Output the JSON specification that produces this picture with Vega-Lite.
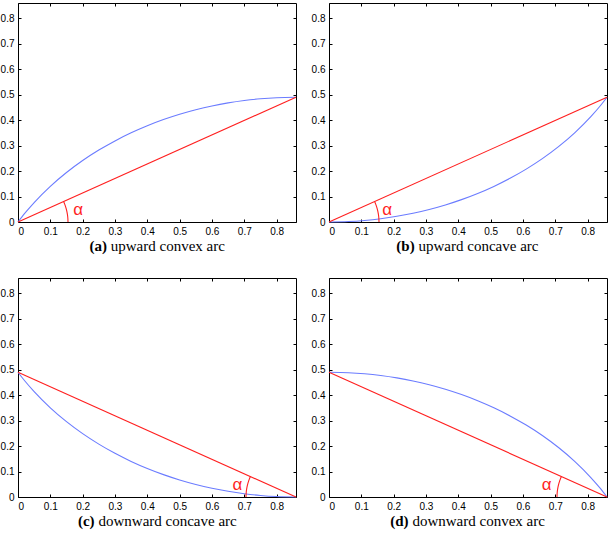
{
  "$schema": "https://vega.github.io/schema/vega-lite/v6.json",
  "background": "white",
  "padding": {"left": 0, "top": 2, "right": 0, "bottom": 0},
  "spacing": 22,
  "datasets": {
    "a": [
      {"s": "curve", "x": 0, "y": 0}, {"s": "curve", "x": 0.02, "y": 0.0326}, {"s": "curve", "x": 0.05, "y": 0.0764},
      {"s": "curve", "x": 0.1, "y": 0.1399}, {"s": "curve", "x": 0.15, "y": 0.1942}, {"s": "curve", "x": 0.2, "y": 0.2413},
      {"s": "curve", "x": 0.25, "y": 0.2824}, {"s": "curve", "x": 0.3, "y": 0.3185}, {"s": "curve", "x": 0.35, "y": 0.3502},
      {"s": "curve", "x": 0.4, "y": 0.3779}, {"s": "curve", "x": 0.45, "y": 0.4021}, {"s": "curve", "x": 0.5, "y": 0.423},
      {"s": "curve", "x": 0.55, "y": 0.4407}, {"s": "curve", "x": 0.6, "y": 0.4556}, {"s": "curve", "x": 0.65, "y": 0.4677},
      {"s": "curve", "x": 0.7, "y": 0.4771}, {"s": "curve", "x": 0.75, "y": 0.4839}, {"s": "curve", "x": 0.8, "y": 0.4882},
      {"s": "curve", "x": 0.86, "y": 0.49},
      {"s": "chord", "x": 0, "y": 0}, {"s": "chord", "x": 0.86, "y": 0.49},
      {"s": "arc", "x": 0.1547, "y": 0}, {"s": "arc", "x": 0.1544, "y": 0.0103}, {"s": "arc", "x": 0.1538, "y": 0.0205},
      {"s": "arc", "x": 0.1527, "y": 0.0307}, {"s": "arc", "x": 0.1513, "y": 0.0408}, {"s": "arc", "x": 0.1494, "y": 0.0508},
      {"s": "arc", "x": 0.1471, "y": 0.0607}, {"s": "arc", "x": 0.1444, "y": 0.0704}, {"s": "arc", "x": 0.1411, "y": 0.0804}
    ],
    "b": [
      {"s": "curve", "x": 0, "y": 0}, {"s": "curve", "x": 0.06, "y": 0.0018}, {"s": "curve", "x": 0.11, "y": 0.0061},
      {"s": "curve", "x": 0.16, "y": 0.0129}, {"s": "curve", "x": 0.21, "y": 0.0223}, {"s": "curve", "x": 0.26, "y": 0.0344},
      {"s": "curve", "x": 0.31, "y": 0.0493}, {"s": "curve", "x": 0.36, "y": 0.067}, {"s": "curve", "x": 0.41, "y": 0.0879},
      {"s": "curve", "x": 0.46, "y": 0.1121}, {"s": "curve", "x": 0.51, "y": 0.1398}, {"s": "curve", "x": 0.56, "y": 0.1715},
      {"s": "curve", "x": 0.61, "y": 0.2076}, {"s": "curve", "x": 0.66, "y": 0.2487}, {"s": "curve", "x": 0.71, "y": 0.2958},
      {"s": "curve", "x": 0.76, "y": 0.3501}, {"s": "curve", "x": 0.81, "y": 0.4136}, {"s": "curve", "x": 0.84, "y": 0.4574},
      {"s": "curve", "x": 0.86, "y": 0.49},
      {"s": "chord", "x": 0, "y": 0}, {"s": "chord", "x": 0.86, "y": 0.49},
      {"s": "arc", "x": 0.1547, "y": 0}, {"s": "arc", "x": 0.1544, "y": 0.0103}, {"s": "arc", "x": 0.1538, "y": 0.0205},
      {"s": "arc", "x": 0.1527, "y": 0.0307}, {"s": "arc", "x": 0.1513, "y": 0.0408}, {"s": "arc", "x": 0.1494, "y": 0.0508},
      {"s": "arc", "x": 0.1471, "y": 0.0607}, {"s": "arc", "x": 0.1444, "y": 0.0704}, {"s": "arc", "x": 0.1411, "y": 0.0804}
    ],
    "c": [
      {"s": "curve", "x": 0, "y": 0.49}, {"s": "curve", "x": 0.02, "y": 0.4574}, {"s": "curve", "x": 0.05, "y": 0.4136},
      {"s": "curve", "x": 0.1, "y": 0.3501}, {"s": "curve", "x": 0.15, "y": 0.2958}, {"s": "curve", "x": 0.2, "y": 0.2487},
      {"s": "curve", "x": 0.25, "y": 0.2076}, {"s": "curve", "x": 0.3, "y": 0.1715}, {"s": "curve", "x": 0.35, "y": 0.1398},
      {"s": "curve", "x": 0.4, "y": 0.1121}, {"s": "curve", "x": 0.45, "y": 0.0879}, {"s": "curve", "x": 0.5, "y": 0.067},
      {"s": "curve", "x": 0.55, "y": 0.0493}, {"s": "curve", "x": 0.6, "y": 0.0344}, {"s": "curve", "x": 0.65, "y": 0.0223},
      {"s": "curve", "x": 0.7, "y": 0.0129}, {"s": "curve", "x": 0.75, "y": 0.0061}, {"s": "curve", "x": 0.8, "y": 0.0018},
      {"s": "curve", "x": 0.86, "y": 0},
      {"s": "chord", "x": 0, "y": 0.49}, {"s": "chord", "x": 0.86, "y": 0},
      {"s": "arc", "x": 0.7053, "y": 0}, {"s": "arc", "x": 0.7056, "y": 0.0103}, {"s": "arc", "x": 0.7062, "y": 0.0205},
      {"s": "arc", "x": 0.7073, "y": 0.0307}, {"s": "arc", "x": 0.7087, "y": 0.0408}, {"s": "arc", "x": 0.7106, "y": 0.0508},
      {"s": "arc", "x": 0.7129, "y": 0.0607}, {"s": "arc", "x": 0.7156, "y": 0.0704}, {"s": "arc", "x": 0.7189, "y": 0.0804}
    ],
    "d": [
      {"s": "curve", "x": 0, "y": 0.49}, {"s": "curve", "x": 0.06, "y": 0.4882}, {"s": "curve", "x": 0.11, "y": 0.4839},
      {"s": "curve", "x": 0.16, "y": 0.4771}, {"s": "curve", "x": 0.21, "y": 0.4677}, {"s": "curve", "x": 0.26, "y": 0.4556},
      {"s": "curve", "x": 0.31, "y": 0.4407}, {"s": "curve", "x": 0.36, "y": 0.423}, {"s": "curve", "x": 0.41, "y": 0.4021},
      {"s": "curve", "x": 0.46, "y": 0.3779}, {"s": "curve", "x": 0.51, "y": 0.3502}, {"s": "curve", "x": 0.56, "y": 0.3185},
      {"s": "curve", "x": 0.61, "y": 0.2824}, {"s": "curve", "x": 0.66, "y": 0.2413}, {"s": "curve", "x": 0.71, "y": 0.1942},
      {"s": "curve", "x": 0.76, "y": 0.1399}, {"s": "curve", "x": 0.81, "y": 0.0764}, {"s": "curve", "x": 0.84, "y": 0.0326},
      {"s": "curve", "x": 0.86, "y": 0},
      {"s": "chord", "x": 0, "y": 0.49}, {"s": "chord", "x": 0.86, "y": 0},
      {"s": "arc", "x": 0.7053, "y": 0}, {"s": "arc", "x": 0.7056, "y": 0.0103}, {"s": "arc", "x": 0.7062, "y": 0.0205},
      {"s": "arc", "x": 0.7073, "y": 0.0307}, {"s": "arc", "x": 0.7087, "y": 0.0408}, {"s": "arc", "x": 0.7106, "y": 0.0508},
      {"s": "arc", "x": 0.7129, "y": 0.0607}, {"s": "arc", "x": 0.7156, "y": 0.0704}, {"s": "arc", "x": 0.7189, "y": 0.0804}
    ]
  },
  "vconcat": [
    {
      "hconcat": [
        {
          "width": 278, "height": 219,
          "data": {"name": "a"},
          "layer": [
            {"mark": {"type": "line", "strokeWidth": 1.1, "interpolate": "monotone"},
             "encoding": {
               "x": {"field": "x", "type": "quantitative", "scale": {"domain": [0, 0.86], "nice": false, "zero": false}, "axis": {"orient": "bottom", "title": null, "values": [0,0.1,0.2,0.3,0.4,0.5,0.6,0.7,0.8], "format": ".1~f"}},
               "y": {"field": "y", "type": "quantitative", "scale": {"domain": [0, 0.86], "nice": false, "zero": false}, "axis": {"orient": "left", "title": null, "values": [0,0.1,0.2,0.3,0.4,0.5,0.6,0.7,0.8], "format": ".1~f"}},
               "color": {"field": "s", "type": "nominal", "scale": {"domain": ["curve", "chord", "arc"], "range": ["#6b7cff", "#ff1f1f", "#ff1f1f"]}, "legend": null}
             }},
            {"mark": {"type": "line", "opacity": 0},
             "encoding": {
               "x": {"field": "x", "type": "quantitative", "axis": {"orient": "top", "title": null, "labels": false, "values": [0,0.1,0.2,0.3,0.4,0.5,0.6,0.7,0.8]}},
               "y": {"field": "y", "type": "quantitative", "axis": {"orient": "right", "title": null, "labels": false, "values": [0,0.1,0.2,0.3,0.4,0.5,0.6,0.7,0.8]}},
               "detail": {"field": "s"}
             }},
            {"data": {"values": [{}]},
             "mark": {"type": "text", "text": "α", "font": "Liberation Sans", "fontSize": 17, "color": "#ff1f1f", "baseline": "middle", "align": "center"},
             "encoding": {"x": {"datum": 0.186, "type": "quantitative", "axis": null}, "y": {"datum": 0.049, "type": "quantitative", "axis": null}}},
            {"data": {"values": [{}]},
             "mark": {"type": "text", "text": "(a)", "font": "Liberation Serif", "fontWeight": "bold", "fontSize": 15, "color": "black", "baseline": "middle", "align": "right"},
             "encoding": {"x": {"datum": 0.275, "type": "quantitative", "axis": null}, "y": {"datum": -0.095, "type": "quantitative", "axis": null}}},
            {"data": {"values": [{}]},
             "mark": {"type": "text", "text": "upward convex arc", "font": "Liberation Serif", "fontSize": 15, "color": "black", "baseline": "middle", "align": "left"},
             "encoding": {"x": {"datum": 0.287, "type": "quantitative", "axis": null}, "y": {"datum": -0.095, "type": "quantitative", "axis": null}}}
          ],
          "resolve": {"axis": {"x": "independent", "y": "independent"}}
        },
        {
          "width": 278, "height": 219,
          "data": {"name": "b"},
          "layer": [
            {"mark": {"type": "line", "strokeWidth": 1.1, "interpolate": "monotone"},
             "encoding": {
               "x": {"field": "x", "type": "quantitative", "scale": {"domain": [0, 0.86], "nice": false, "zero": false}, "axis": {"orient": "bottom", "title": null, "values": [0,0.1,0.2,0.3,0.4,0.5,0.6,0.7,0.8], "format": ".1~f"}},
               "y": {"field": "y", "type": "quantitative", "scale": {"domain": [0, 0.86], "nice": false, "zero": false}, "axis": {"orient": "left", "title": null, "values": [0,0.1,0.2,0.3,0.4,0.5,0.6,0.7,0.8], "format": ".1~f"}},
               "color": {"field": "s", "type": "nominal", "scale": {"domain": ["curve", "chord", "arc"], "range": ["#6b7cff", "#ff1f1f", "#ff1f1f"]}, "legend": null}
             }},
            {"mark": {"type": "line", "opacity": 0},
             "encoding": {
               "x": {"field": "x", "type": "quantitative", "axis": {"orient": "top", "title": null, "labels": false, "values": [0,0.1,0.2,0.3,0.4,0.5,0.6,0.7,0.8]}},
               "y": {"field": "y", "type": "quantitative", "axis": {"orient": "right", "title": null, "labels": false, "values": [0,0.1,0.2,0.3,0.4,0.5,0.6,0.7,0.8]}},
               "detail": {"field": "s"}
             }},
            {"data": {"values": [{}]},
             "mark": {"type": "text", "text": "α", "font": "Liberation Sans", "fontSize": 17, "color": "#ff1f1f", "baseline": "middle", "align": "center"},
             "encoding": {"x": {"datum": 0.18, "type": "quantitative", "axis": null}, "y": {"datum": 0.049, "type": "quantitative", "axis": null}}},
            {"data": {"values": [{}]},
             "mark": {"type": "text", "text": "(b)", "font": "Liberation Serif", "fontWeight": "bold", "fontSize": 15, "color": "black", "baseline": "middle", "align": "right"},
             "encoding": {"x": {"datum": 0.265, "type": "quantitative", "axis": null}, "y": {"datum": -0.095, "type": "quantitative", "axis": null}}},
            {"data": {"values": [{}]},
             "mark": {"type": "text", "text": "upward concave arc", "font": "Liberation Serif", "fontSize": 15, "color": "black", "baseline": "middle", "align": "left"},
             "encoding": {"x": {"datum": 0.277, "type": "quantitative", "axis": null}, "y": {"datum": -0.095, "type": "quantitative", "axis": null}}}
          ],
          "resolve": {"axis": {"x": "independent", "y": "independent"}}
        }
      ],
      "spacing": 12
    },
    {
      "hconcat": [
        {
          "width": 278, "height": 219,
          "data": {"name": "c"},
          "layer": [
            {"mark": {"type": "line", "strokeWidth": 1.1, "interpolate": "monotone"},
             "encoding": {
               "x": {"field": "x", "type": "quantitative", "scale": {"domain": [0, 0.86], "nice": false, "zero": false}, "axis": {"orient": "bottom", "title": null, "values": [0,0.1,0.2,0.3,0.4,0.5,0.6,0.7,0.8], "format": ".1~f"}},
               "y": {"field": "y", "type": "quantitative", "scale": {"domain": [0, 0.86], "nice": false, "zero": false}, "axis": {"orient": "left", "title": null, "values": [0,0.1,0.2,0.3,0.4,0.5,0.6,0.7,0.8], "format": ".1~f"}},
               "color": {"field": "s", "type": "nominal", "scale": {"domain": ["curve", "chord", "arc"], "range": ["#6b7cff", "#ff1f1f", "#ff1f1f"]}, "legend": null}
             }},
            {"mark": {"type": "line", "opacity": 0},
             "encoding": {
               "x": {"field": "x", "type": "quantitative", "axis": {"orient": "top", "title": null, "labels": false, "values": [0,0.1,0.2,0.3,0.4,0.5,0.6,0.7,0.8]}},
               "y": {"field": "y", "type": "quantitative", "axis": {"orient": "right", "title": null, "labels": false, "values": [0,0.1,0.2,0.3,0.4,0.5,0.6,0.7,0.8]}},
               "detail": {"field": "s"}
             }},
            {"data": {"values": [{}]},
             "mark": {"type": "text", "text": "α", "font": "Liberation Sans", "fontSize": 17, "color": "#ff1f1f", "baseline": "middle", "align": "center"},
             "encoding": {"x": {"datum": 0.679, "type": "quantitative", "axis": null}, "y": {"datum": 0.049, "type": "quantitative", "axis": null}}},
            {"data": {"values": [{}]},
             "mark": {"type": "text", "text": "(c)", "font": "Liberation Serif", "fontWeight": "bold", "fontSize": 15, "color": "black", "baseline": "middle", "align": "right"},
             "encoding": {"x": {"datum": 0.237, "type": "quantitative", "axis": null}, "y": {"datum": -0.095, "type": "quantitative", "axis": null}}},
            {"data": {"values": [{}]},
             "mark": {"type": "text", "text": "downward concave arc", "font": "Liberation Serif", "fontSize": 15, "color": "black", "baseline": "middle", "align": "left"},
             "encoding": {"x": {"datum": 0.249, "type": "quantitative", "axis": null}, "y": {"datum": -0.095, "type": "quantitative", "axis": null}}}
          ],
          "resolve": {"axis": {"x": "independent", "y": "independent"}}
        },
        {
          "width": 278, "height": 219,
          "data": {"name": "d"},
          "layer": [
            {"mark": {"type": "line", "strokeWidth": 1.1, "interpolate": "monotone"},
             "encoding": {
               "x": {"field": "x", "type": "quantitative", "scale": {"domain": [0, 0.86], "nice": false, "zero": false}, "axis": {"orient": "bottom", "title": null, "values": [0,0.1,0.2,0.3,0.4,0.5,0.6,0.7,0.8], "format": ".1~f"}},
               "y": {"field": "y", "type": "quantitative", "scale": {"domain": [0, 0.86], "nice": false, "zero": false}, "axis": {"orient": "left", "title": null, "values": [0,0.1,0.2,0.3,0.4,0.5,0.6,0.7,0.8], "format": ".1~f"}},
               "color": {"field": "s", "type": "nominal", "scale": {"domain": ["curve", "chord", "arc"], "range": ["#6b7cff", "#ff1f1f", "#ff1f1f"]}, "legend": null}
             }},
            {"mark": {"type": "line", "opacity": 0},
             "encoding": {
               "x": {"field": "x", "type": "quantitative", "axis": {"orient": "top", "title": null, "labels": false, "values": [0,0.1,0.2,0.3,0.4,0.5,0.6,0.7,0.8]}},
               "y": {"field": "y", "type": "quantitative", "axis": {"orient": "right", "title": null, "labels": false, "values": [0,0.1,0.2,0.3,0.4,0.5,0.6,0.7,0.8]}},
               "detail": {"field": "s"}
             }},
            {"data": {"values": [{}]},
             "mark": {"type": "text", "text": "α", "font": "Liberation Sans", "fontSize": 17, "color": "#ff1f1f", "baseline": "middle", "align": "center"},
             "encoding": {"x": {"datum": 0.673, "type": "quantitative", "axis": null}, "y": {"datum": 0.049, "type": "quantitative", "axis": null}}},
            {"data": {"values": [{}]},
             "mark": {"type": "text", "text": "(d)", "font": "Liberation Serif", "fontWeight": "bold", "fontSize": 15, "color": "black", "baseline": "middle", "align": "right"},
             "encoding": {"x": {"datum": 0.246, "type": "quantitative", "axis": null}, "y": {"datum": -0.095, "type": "quantitative", "axis": null}}},
            {"data": {"values": [{}]},
             "mark": {"type": "text", "text": "downward convex arc", "font": "Liberation Serif", "fontSize": 15, "color": "black", "baseline": "middle", "align": "left"},
             "encoding": {"x": {"datum": 0.258, "type": "quantitative", "axis": null}, "y": {"datum": -0.095, "type": "quantitative", "axis": null}}}
          ],
          "resolve": {"axis": {"x": "independent", "y": "independent"}}
        }
      ],
      "spacing": 12
    }
  ],
  "config": {
    "view": {"stroke": null},
    "axis": {
      "grid": false,
      "domainColor": "black",
      "domainWidth": 1,
      "tickColor": "black",
      "tickWidth": 1,
      "tickSize": -3,
      "labelPadding": 7,
      "labelColor": "black",
      "labelFont": "Liberation Sans",
      "labelFontSize": 10
    }
  }
}
